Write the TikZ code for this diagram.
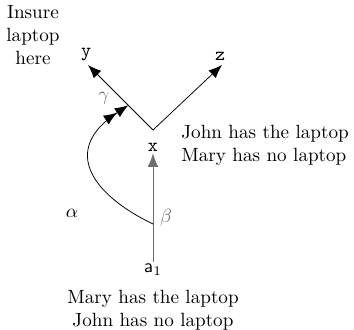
\documentclass[tikz,border=0pt]{standalone}
\usepackage{amsmath, amssymb}
\usepackage{tikz}
\usetikzlibrary{arrows.meta, positioning, calc}
\definecolor{movegray}{RGB}{110, 110, 110}
\tikzset{
    state/.style={inner sep=1pt},
    story/.style={align=center, inner sep=0pt},
    edge/.style={-{Latex[length=7pt,width=5.5pt]}},
}

\begin{document}
\begin{tikzpicture}
    \useasboundingbox (0,0) rectangle (6.5,6.059);
    % States
    \coordinate (v) at (2.809,3.672);
    \node[state] (x) at (2.809,3.36) {\texttt{x}};
    \node[state, anchor=south] (y) at (1.58,4.90) {\texttt{y}};
    \node[state, anchor=south] (z) at (4.04,4.90) {\texttt{z}};
    \node[state] (a1) at (2.809,1.10) {$\mathsf{a}_1$};
    \coordinate (ytip) at (1.616,4.865);
    \coordinate (ztip) at (4.076,4.865);
    % Moves
    \draw[edge] (v) -- (ytip);
    \draw[edge] (v) -- (ztip);
    \draw[edge, movegray] (a1.north) -- (x.south);
    \coordinate (bstart) at (2.809,1.946);
    \coordinate (gend) at ($(v)!0.38!(ytip)$);
    \draw[-{Latex[length=7pt,width=5.5pt]Latex[length=7pt,width=5.5pt]}]
        (bstart) .. controls (1.70,2.48) and (1.10,3.30) .. (gend);
    % Move labels
    \node (alpha) at (1.322,2.148) {$\alpha$};
    \node[movegray] (beta) at (3.048,2.056) {$\beta$};
    \node[movegray] (gamma) at (1.909,4.259) {$\gamma$};
    % Stories
    \node[story] (ins) at (0.606,5.416) {Insure\\laptop\\here};
    \node[story, anchor=west, align=left] (john) at (3.323,3.397)
        {John has the laptop\\Mary has no laptop};
    \node[story] (mary) at (2.809,0.367) {Mary has the laptop\\John has no laptop};
\end{tikzpicture}
\end{document}
